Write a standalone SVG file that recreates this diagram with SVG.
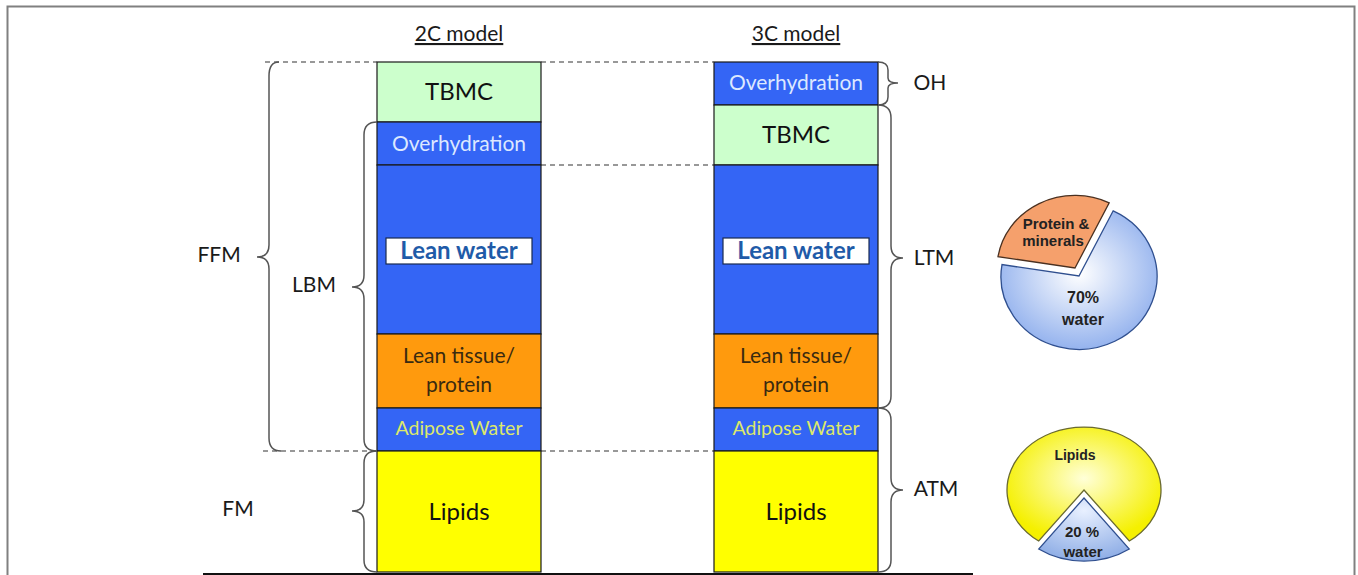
<svg xmlns="http://www.w3.org/2000/svg" width="1358" height="575" viewBox="0 0 1358 575">
<style>
.t{font-family:Lato,"Open Sans","Liberation Sans",sans-serif;text-anchor:middle}
.seg{stroke:#1a1a1a;stroke-width:1.2}
.green{fill:#CCFFCC}
.blue{fill:#3465F5}
.orange{fill:#FF9A0D}
.yellow{fill:#FFFF00}
.oh{fill:#DCE8FF;font-size:21px}
.tb{fill:#111;font-size:24px}
.lt{fill:#3a2a10;font-size:21px}
.aw{fill:#DDE86A;font-size:19.5px}
.lw{fill:#1F5BA8;font-size:24px;font-weight:bold}
.lbl{fill:#1a1a1a;font-size:21px}
.brace{fill:none;stroke:#555;stroke-width:1.5}
.dash{stroke:#333;stroke-width:1.2;stroke-dasharray:5 4}
.pt{font-family:"Liberation Sans",Arial,sans-serif;font-weight:bold;text-anchor:middle;fill:#222}
</style>
<defs>
<radialGradient id="gb" cx="0.5" cy="0.45" r="0.55">
<stop offset="0" stop-color="#FFFFFF"/><stop offset="1" stop-color="#95B3EE"/>
</radialGradient>
<radialGradient id="gy" cx="0.5" cy="0.45" r="0.55">
<stop offset="0" stop-color="#FFFFD8"/><stop offset="1" stop-color="#F5F000"/>
</radialGradient>
<radialGradient id="gw" cx="0.5" cy="0.2" r="0.8">
<stop offset="0" stop-color="#E8F0FF"/><stop offset="1" stop-color="#8FAEE6"/>
</radialGradient>
</defs>

<rect x="7.5" y="6.5" width="1347" height="580" fill="none" stroke="#808080" stroke-width="2"/>

<g id="headers">
<text class="t lbl" x="459" y="41" font-size="20" text-decoration="underline">2C model</text>
<text class="t lbl" x="796" y="41" font-size="20" text-decoration="underline">3C model</text>
</g>

<g id="col2C">
<rect class="seg green" x="377" y="62" width="164" height="60"/>
<text class="t tb" x="459" y="100">TBMC</text>
<rect class="seg blue" x="377" y="122" width="164" height="43"/>
<text class="t oh" x="459" y="151">Overhydration</text>
<rect class="seg blue" x="377" y="165" width="164" height="169"/>
<rect x="386" y="238" width="146" height="26" fill="#fff" stroke="#1a2a50" stroke-width="1.2"/>
<text class="t lw" x="459" y="259">Lean water</text>
<rect class="seg orange" x="377" y="334" width="164" height="74"/>
<text class="t lt" x="459" y="363">Lean tissue/</text>
<text class="t lt" x="459" y="392">protein</text>
<rect class="seg blue" x="377" y="408" width="164" height="43"/>
<text class="t aw" x="459" y="435">Adipose Water</text>
<rect class="seg yellow" x="377" y="451" width="164" height="121"/>
<text class="t tb" x="459" y="520">Lipids</text>
</g>

<g id="col3C">
<rect class="seg blue" x="714" y="62" width="164" height="43"/>
<text class="t oh" x="796" y="90">Overhydration</text>
<rect class="seg green" x="714" y="105" width="164" height="60"/>
<text class="t tb" x="796" y="143">TBMC</text>
<rect class="seg blue" x="714" y="165" width="164" height="169"/>
<rect x="723" y="238" width="146" height="26" fill="#fff" stroke="#1a2a50" stroke-width="1.2"/>
<text class="t lw" x="796" y="259">Lean water</text>
<rect class="seg orange" x="714" y="334" width="164" height="74"/>
<text class="t lt" x="796" y="363">Lean tissue/</text>
<text class="t lt" x="796" y="392">protein</text>
<rect class="seg blue" x="714" y="408" width="164" height="43"/>
<text class="t aw" x="796" y="435">Adipose Water</text>
<rect class="seg yellow" x="714" y="451" width="164" height="121"/>
<text class="t tb" x="796" y="520">Lipids</text>
</g>

<g id="connectors">
<line class="dash" x1="265" y1="62" x2="377" y2="62"/>
<line class="dash" x1="541" y1="62" x2="714" y2="62"/>
<line class="dash" x1="541" y1="165" x2="714" y2="165"/>
<line class="dash" x1="263" y1="451" x2="377" y2="451"/>
<line class="dash" x1="541" y1="451" x2="714" y2="451"/>
<line x1="203" y1="574" x2="973" y2="574" stroke="#111" stroke-width="2"/>
<path class="brace" d="M279,62 Q269,62 269,76 L269,245 Q269,257 257,257 Q269,257 269,269 L269,438 Q269,451 281,451"/>
<path class="brace" d="M377,122 Q364,122 364,135 L364,275 Q364,287 352,287 Q364,287 364,299 L364,439 Q364,451 377,451"/>
<path class="brace" d="M377,451 Q364,451 364,463 L364,500 Q364,511 352,511 Q364,511 364,522 L364,560 Q364,572 377,572"/>
<path class="brace" d="M878,62 Q888,62 888,70 L888,78 Q888,83 898,83 Q888,83 888,88 L888,97 Q888,105 878,105"/>
<path class="brace" d="M878,105 Q891,105 891,118 L891,246 Q891,258 903,258 Q891,258 891,270 L891,396 Q891,408 878,408"/>
<path class="brace" d="M878,408 Q891,408 891,420 L891,478 Q891,490 903,490 Q891,490 891,502 L891,560 Q891,572 878,572"/>
</g>

<g id="labels">
<text class="t lbl" x="219" y="262">FFM</text>
<text class="t lbl" x="314" y="292">LBM</text>
<text class="t lbl" x="238" y="516">FM</text>
<text class="t lbl" x="930" y="90">OH</text>
<text class="t lbl" x="934" y="265">LTM</text>
<text class="t lbl" x="936" y="496">ATM</text>
</g>

<g id="pie-lean">
<path d="M1079,276 L1113.2,210.8 A78,73 0 1 1 1002.0,264.6 Z" fill="url(#gb)" stroke="#2F4F8F" stroke-width="1.3"/>
<path d="M1075,268 L1109.2,202.8 A78,73 0 0 0 998.0,256.6 Z" fill="#F5A06C" stroke="#4a3020" stroke-width="1.3"/>
<text class="pt" x="1056" y="229" font-size="15">Protein &amp;</text>
<text class="pt" x="1053" y="246" font-size="15">minerals</text>
<text class="pt" x="1083" y="303" font-size="16">70%</text>
<text class="pt" x="1083" y="325" font-size="16">water</text>
</g>

<g id="pie-adipose">
<path d="M1084,490 L1129.3,541.0 A77,63 0 1 0 1038.7,541.0 Z" fill="url(#gy)" stroke="#6a6a30" stroke-width="1.3"/>
<path d="M1084,498 L1129.3,549.0 A77,63 0 0 1 1038.7,549.0 Z" fill="url(#gw)" stroke="#2F4F8F" stroke-width="1.3"/>
<text class="pt" x="1075" y="460" font-size="14">Lipids</text>
<text class="pt" x="1082" y="537" font-size="15">20 %</text>
<text class="pt" x="1083" y="557" font-size="15">water</text>
</g>
</svg>
